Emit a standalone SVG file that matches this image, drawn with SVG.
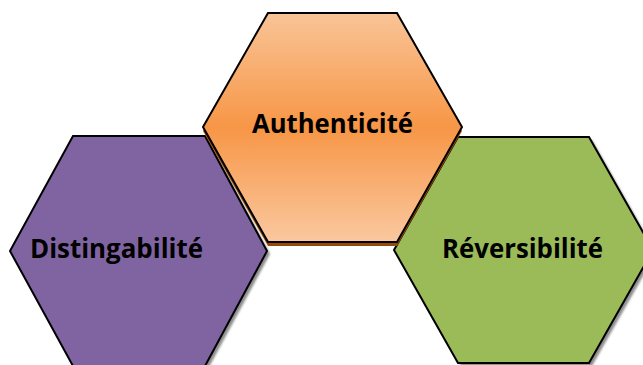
<svg xmlns="http://www.w3.org/2000/svg" width="643" height="365" viewBox="0 0 643 365">
<defs>
<linearGradient id="og" x1="0" y1="0" x2="0" y2="1">
<stop offset="0" stop-color="#f9c497"/>
<stop offset="0.5" stop-color="#f79646"/>
<stop offset="1" stop-color="#fac8a0"/>
</linearGradient>
<filter id="blur" x="-10%" y="-10%" width="120%" height="120%"><feGaussianBlur stdDeviation="1"/></filter>
</defs>
<style>
.hex{stroke:#000;stroke-width:2;stroke-linejoin:miter}
.sh{fill:#8c8c8c;filter:url(#blur)}
.lbl{font-family:"Open Sans","Liberation Sans",Arial,sans-serif;font-weight:bold;font-size:26.5px;fill:#000;text-anchor:middle}
</style>
<rect width="643" height="365" fill="#fff"/>
<g id="distingabilite">
<polygon class="sh" points="76,139 208,139 270,254 208,369 76,369 13,254"/>
<polygon class="hex" fill="#8064a2" points="73,136 205,136 267,251 205,366 73,366 10,251"/>
<text class="lbl" x="116.5" y="258" textLength="173" lengthAdjust="spacingAndGlyphs">Distingabilité</text>
</g>
<g id="reversibilite">
<polygon class="sh" points="461,140 592,140 656,253 592,366 461,366 397,253"/>
<polygon class="hex" fill="#9bbb59" points="458,137 589,137 653,250 589,363 458,363 394,250"/>
<text class="lbl" x="522.5" y="258" textLength="161" lengthAdjust="spacingAndGlyphs">Réversibilité</text>
</g>
<g id="authenticite">
<polygon fill="#984807" points="268,17 397,17 462,131 397,246 268,246 203,131"/>
<polygon class="hex" fill="url(#og)" points="268,13 397,13 462,127 397,242 268,242 203,127"/>
<text class="lbl" x="332.5" y="133" textLength="161" lengthAdjust="spacingAndGlyphs">Authenticité</text>
</g>
<g id="connectors"/>
</svg>
